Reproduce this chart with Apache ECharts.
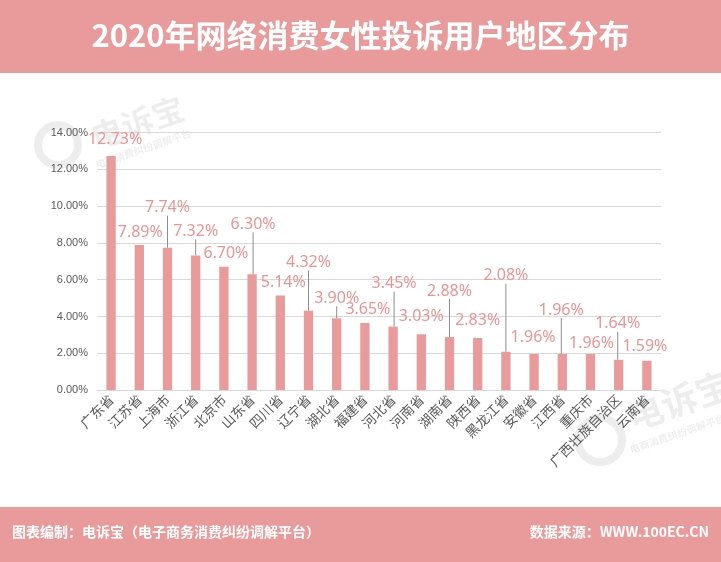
<!DOCTYPE html>
<html>
<head>
<meta charset="utf-8">
<script src="https://cdn.jsdelivr.net/npm/echarts@6/dist/echarts.min.js"></script>
<style>
html,body{margin:0;padding:0;background:#fff;}
#chart{width:721px;height:562px;}
</style>
</head>
<body>
<div id="chart"></div>
<script>
const categories = ['广东省','江苏省','上海市','浙江省','北京市','山东省','四川省','辽宁省','湖北省','福建省','河北省','河南省','湖南省','陕西省','黑龙江省','安徽省','江西省','重庆市','广西壮族自治区','云南省'];
const shares = [12.73,7.89,7.74,7.32,6.70,6.30,5.14,4.32,3.90,3.65,3.45,3.03,2.88,2.83,2.08,1.96,1.96,1.96,1.64,1.59];
const yTicks = [0,2,4,6,8,10,12,14];

// label layout (pixel nudges, Excel-style staggered labels)
const labelDx = [4,1,0,0,2,1,3,0,0,3,1,0,0,0,0,-1,-1,1,-1,-2];
const labelDy = [-4,0,-27,-11,0,-37,0,-35,-7,0,-30,-5,-33,-5,-63,-4,-31,2,-23,-1];
const leader  = [0,0,1,1,0,1,0,1,1,0,1,0,1,0,1,0,1,0,1,0];

const PINK = '#E99A9A';
const CJK = '"Noto Sans CJK SC","Noto Sans",sans-serif';
const chart = echarts.init(document.getElementById('chart'));

const wm = 'rgba(0,0,0,0.07)';
chart.setOption({
  backgroundColor:'#fff',
  animation:false,
  graphic:[
    {type:'rect', left:0, top:0, shape:{width:721,height:73}, style:{fill:PINK}, z:0},
    {type:'text', left:'center', top:20, style:{text:'2020年网络消费女性投诉用户地区分布', fill:'#fff', font:'bold 31px '+CJK}, z:1},
    {type:'rect', left:0, top:507, shape:{width:721,height:55}, style:{fill:PINK}, z:0},
    {type:'text', left:12, top:525, style:{text:'图表编制：电诉宝（电子商务消费纠纷调解平台）', fill:'#fff', font:'bold 14px '+CJK}, z:1},
    {type:'text', right:12, top:525, style:{text:'数据来源：WWW.100EC.CN', fill:'#fff', font:'bold 14px '+CJK}, z:1},
    // watermarks
    {type:'circle', x:58, y:145, shape:{r:20}, style:{fill:'none', stroke:wm, lineWidth:8}, z:0},
    {type:'text', x:92, y:138, rotation:0.33, style:{text:'电诉宝', fill:wm, font:'bold 32px '+CJK, verticalAlign:'middle'}, z:0},
    {type:'text', x:96, y:165, rotation:0.33, style:{text:'电商消费纠纷调解平台', fill:wm, font:'bold 10px '+CJK, verticalAlign:'middle'}, z:0},
    {type:'circle', x:600, y:440, shape:{r:22}, style:{fill:'none', stroke:wm, lineWidth:8}, z:0},
    {type:'text', x:628, y:418, rotation:0.33, style:{text:'电诉宝', fill:wm, font:'bold 36px '+CJK, verticalAlign:'middle'}, z:0},
    {type:'text', x:630, y:450, rotation:0.33, style:{text:'电商消费纠纷调解平台', fill:wm, font:'bold 10px '+CJK, verticalAlign:'middle'}, z:0}
  ],
  grid:{left:97, right:60, top:132.7, bottom:172},
  xAxis:{
    type:'category', data:categories,
    axisLine:{lineStyle:{color:'#d9d9d9'}},
    axisTick:{show:false},
    axisLabel:{rotate:45, interval:0, color:'#595959', fontSize:13.5, fontFamily:CJK, margin:7}
  },
  yAxis:{
    type:'value', min:yTicks[0], max:yTicks[yTicks.length-1], interval:2,
    axisLine:{show:false}, axisTick:{show:false},
    splitLine:{lineStyle:{color:'#d9d9d9'}},
    axisLabel:{color:'#595959', fontSize:11, fontFamily:'"Liberation Sans",sans-serif', margin:9,
      formatter:v=>v.toFixed(2)+'%'}
  },
  series:[{
    type:'bar',
    data:shares.map((v,i)=>({value:v, labelLine:{show:!!leader[i]}})),
    barWidth:'33%',
    itemStyle:{color:PINK},
    label:{show:true, position:'top', distance:5, color:'#EC9494', fontSize:16,
      fontFamily:'"Noto Sans",sans-serif', formatter:p=>p.value.toFixed(2)+'%'},
    labelLine:{show:true, lineStyle:{color:'#8c8c8c', width:1}},
    labelLayout:function(p){
      const i=p.dataIndex;
      const cx=p.rect.x+p.rect.width/2;
      const res={dx:labelDx[i], dy:labelDy[i]};
      if(leader[i]){
        const yb=p.labelRect.y+p.labelRect.height+labelDy[i]-1;
        res.labelLinePoints=[[cx,yb],[cx,p.rect.y],[cx,p.rect.y]];
      }
      return res;
    }
  }]
});
</script>
</body>
</html>
